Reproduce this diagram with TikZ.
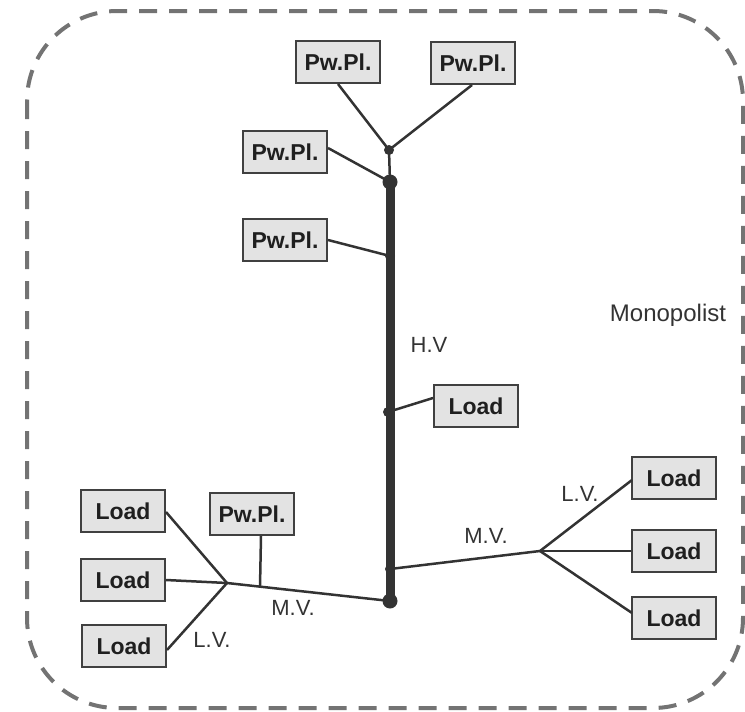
\documentclass[tikz,border=0pt]{standalone}
\usepackage{fontspec}
\setmainfont{Liberation Sans}
\begin{document}
\begin{tikzpicture}[x=1pt,y=-1pt,
  unitbox/.style={draw=black!75, line width=2pt, fill=black!11, minimum width=84pt, minimum height=42pt, inner sep=0pt, font=\fontsize{23}{25}\selectfont\bfseries, text=black!88},
  wire/.style={draw=black!80, line width=2.5pt},
  busline/.style={draw=black!80, line width=9pt},
  lbl/.style={font=\fontsize{22}{25}\selectfont, text=black!80},
  bigdot/.style={circle, fill=black!80, minimum size=15pt, inner sep=0pt},
  smalldot/.style={circle, fill=black!80, minimum size=10pt, inner sep=0pt}]
\useasboundingbox (0,0) rectangle (745,712);
\draw[draw=black!55, line width=4pt, dash pattern=on 18pt off 12pt, rounded corners=90pt] (27,11) rectangle (743,708);

% boxes
\node[unitbox] (pt1) at (338,62) {Pw.Pl.};
\node[unitbox] (pt2) at (473,63) {Pw.Pl.};
\node[unitbox] (pl1) at (285,152) {Pw.Pl.};
\node[unitbox] (pl2) at (285,240) {Pw.Pl.};
\node[unitbox] (lm) at (476,406) {Load};
\node[unitbox] (ll1) at (123,511) {Load};
\node[unitbox] (pll) at (252,514) {Pw.Pl.};
\node[unitbox] (ll2) at (123,580) {Load};
\node[unitbox] (ll3) at (124,646) {Load};
\node[unitbox] (lr1) at (674,478) {Load};
\node[unitbox] (lr2) at (674,551) {Load};
\node[unitbox] (lr3) at (674,618) {Load};

% bus points
\coordinate (btop) at (390,182);
\coordinate (bbot) at (390,601);
\coordinate (jt) at (389,150);
\coordinate (b2) at (390,256);
\coordinate (bl) at (388,412);
\coordinate (br) at (390,569);
\coordinate (jr) at (540,551);
\coordinate (jl) at (227,583);
\coordinate (jp) at (260,587);

\draw[busline] (btop) -- (bbot);

% wires
\draw[wire] (338,84) -- (jt);
\draw[wire] (472,85) -- (jt);
\draw[wire] (jt) -- (btop);
\draw[wire] (pl1.east) ++(0,-4) -- (btop);
\draw[wire] (pl2.east) -- (b2);
\draw[wire] (lm.west) ++(0,-8) -- (bl);
\draw[wire] (br) -- (jr);
\draw[wire] (jr) -- (632,480);
\draw[wire] (jr) -- (lr2.west);
\draw[wire] (jr) -- (632,613);
\draw[wire] (bbot) -- (jl);
\draw[wire] (jl) -- (166,512);
\draw[wire] (jl) -- (ll2.east);
\draw[wire] (jl) -- (167,650);
\draw[wire] (261,536) -- (jp);

% dots
\node[bigdot] at (btop) {};
\node[bigdot] at (bbot) {};
\node[smalldot] at (jt) {};
\node[smalldot] at (b2) {};
\node[smalldot] at (bl) {};
\node[smalldot] at (br) {};

% labels
\node[lbl] (hv) at (429,345) {H.V};
\node[lbl, font=\fontsize{24}{26}\selectfont] (mono) at (668,315) {Monopolist};
\node[lbl] (mvl) at (293,608) {M.V.};
\node[lbl] (lvl) at (212,640) {L.V.};
\node[lbl] (mvr) at (486,536) {M.V.};
\node[lbl] (lvr) at (580,494) {L.V.};
\end{tikzpicture}
\end{document}
